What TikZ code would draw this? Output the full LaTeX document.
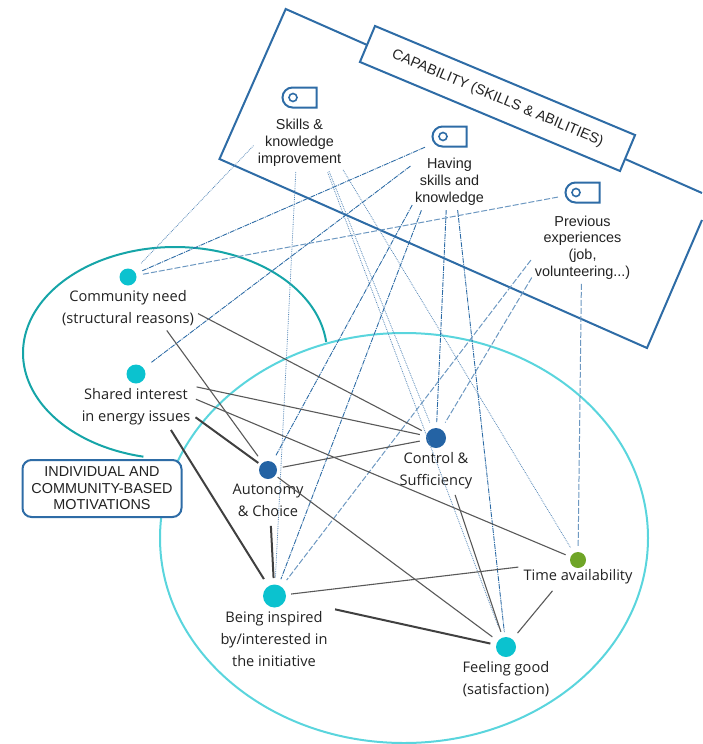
\documentclass[tikz,border=0pt]{standalone}
\usepackage{fontspec}
\usetikzlibrary{shapes.geometric,shapes.misc}
\newfontfamily\arialfont{Liberation Sans}
\newfontfamily\labelfont{Open Sans}
\definecolor{frameblue}{HTML}{2E6CA6}
\definecolor{ringteal}{HTML}{16A5A8}
\definecolor{ringcyan}{HTML}{5AD5DD}
\definecolor{dotcyan}{HTML}{0BC2CF}
\definecolor{dotblue}{HTML}{2463A4}
\definecolor{dotgreen}{HTML}{6FA527}
\definecolor{inktext}{HTML}{222222}
\tikzset{
    dot/.style={circle, inner sep=0pt, minimum size=#1},
    tagbox/.style={rounded rectangle, rounded rectangle right arc=none, draw=frameblue, line width=2pt, minimum width=34pt, minimum height=20pt, inner sep=0pt},
    taghole/.style={circle, draw=frameblue, line width=1.6pt, minimum size=8pt, inner sep=0pt},
    skilltext/.style={font=\arialfont\fontsize{14.4}{16.8}\selectfont, align=center, text=inktext, inner sep=0pt},
    motivetext/.style={font=\labelfont\fontsize{14.6}{21.8}\selectfont, align=center, text=inktext, inner sep=0pt},
    skilllink/.style={draw=frameblue!80, line width=0.8pt, densely dotted},
    havelink/.style={draw=frameblue, line width=0.9pt, dash pattern=on 5pt off 1pt on 1pt off 1pt},
    prevlink/.style={draw=frameblue!70, line width=1pt, dash pattern=on 6pt off 2pt},
    thinlink/.style={draw=black!65, line width=1.1pt},
    thicklink/.style={draw=black!75, line width=2pt}
}
\begin{document}
\begin{tikzpicture}[x=1pt,y=-1pt]
\useasboundingbox (0,0) rectangle (702,744);

% the two rings
\node[ellipse, draw=ringcyan, line width=2pt, minimum width=488pt, minimum height=410pt, inner sep=0pt] (ring) at (404,538) {};
\draw[ringteal, line width=2pt] plot[domain=6:258, samples=90, smooth] ({175+152*cos(\x)},{353-106*sin(\x)});

% capability frame
\draw[frameblue, line width=2pt, line join=miter] (702,193) -- (285.7,9) -- (219.5,159) -- (647,348) -- (702,220);
\node[draw=frameblue, fill=white, line width=2pt, rotate=-22.75, minimum width=282pt, minimum height=39pt, inner sep=0pt, text=inktext, font=\arialfont\fontsize{14.3}{16}\selectfont] (captitle) at (497.5,98.5) {CAPABILITY (SKILLS \& ABILITIES)};
\node[draw=frameblue, fill=white, line width=2pt, rounded corners=9pt, minimum width=159pt, minimum height=57pt, inner sep=0pt, align=center, text=inktext, font=\arialfont\fontsize{14.4}{16.6}\selectfont] (motives) at (102,488.5) {INDIVIDUAL AND\\COMMUNITY-BASED\\MOTIVATIONS};

% capability tags
\node[tagbox] (sk) at (299.5,97.5) {};
\node[tagbox] (hv) at (449.5,136.5) {};
\node[tagbox] (pv) at (582.5,192.5) {};
\node[taghole] (skh) at (293,97.5) {};
\node[taghole] (hvh) at (443,136.5) {};
\node[taghole] (pvh) at (576,192.5) {};
\node[skilltext] (skl) at (299.5,143) {Skills \&\\knowledge\\improvement};
\node[skilltext] (hvl) at (449.5,182) {Having\\skills and\\knowledge};
\node[skilltext] (pvl) at (582.5,247.5) {Previous\\experiences\\(job,\\volunteering...)};

% motivations
\node[dot=17pt, fill=dotcyan] (cn) at (128,277) {};
\node[dot=19pt, fill=dotcyan] (si) at (136,374) {};
\node[dot=18pt, fill=dotblue] (au) at (268,470) {};
\node[dot=20pt, fill=dotblue] (co) at (436,438) {};
\node[dot=16pt, fill=dotgreen] (tm) at (578,560) {};
\node[dot=23pt, fill=dotcyan] (be) at (274.5,596) {};
\node[dot=20pt, fill=dotcyan] (fg) at (506,647) {};
\node[motivetext] (cnl) at (128,308) {Community need\\(structural reasons)};
\node[motivetext] (sil) at (136,406.5) {Shared interest\\in energy issues};
\node[motivetext] (aul) at (268,500.5) {Autonomy\\\& Choice};
\node[motivetext] (col) at (436,471) {Control \&\\Sufficiency};
\node[motivetext] (tml) at (578,577) {Time availability};
\node[motivetext] (bel) at (274,639) {Being inspired\\by/interested in\\the initiative};
\node[motivetext] (fgl) at (506,679) {Feeling good\\(satisfaction)};

\path[skilllink]
    (sk.center) edge[shorten <=66.5pt, shorten >=18pt] (cn.center)
    (sk.center) edge[shorten <=74.6pt, shorten >=18pt] (be.center)
    (sk.center) edge[shorten <=79.4pt, shorten >=16pt] (co.center)
    (sk.center) edge[shorten <=80pt, shorten >=21pt] (fg.center)
    (sk.center) edge[shorten <=84.5pt, shorten >=14.3pt] (tm.center);
\path[havelink]
    (hv.center) edge[shorten <=26.7pt, shorten >=15.6pt] (cn.center)
    (hv.center) edge[shorten <=49pt, shorten >=18.6pt] (si.center)
    (hv.center) edge[shorten <=78pt, shorten >=16pt] (au.center)
    (hv.center) edge[shorten <=79pt, shorten >=18pt] (be.center)
    (hv.center) edge[shorten <=73.6pt, shorten >=16pt] (co.center)
    (hv.center) edge[shorten <=74pt, shorten >=15pt] (fg.center);
\path[prevlink]
    (pv.center) edge[shorten <=25pt, shorten >=14pt] (cn.center)
    (pv.center) edge[shorten <=85pt, shorten >=20pt] (be.center)
    (pv.center) edge[shorten <=99pt, shorten >=18pt] (co.center)
    (pv.center) edge[shorten <=91.5pt, shorten >=14pt] (tm.center);
\path[thinlink]
    (cn.center) edge[shorten <=79pt, shorten >=16pt] (co.center)
    (cn.center) edge[shorten <=66pt, shorten >=17pt] (au.center)
    (si.center) edge[shorten <=62pt, shorten >=16.5pt] (co.center)
    (si.center) edge[shorten <=65pt, shorten >=13.4pt] (tm.center)
    (au.center) edge[shorten <=12pt, shorten >=17pt] (fg.center)
    (au.center) edge[shorten <=15pt, shorten >=16.5pt] (co.center)
    (co.center) edge[shorten <=60pt, shorten >=16pt] (fg.center)
    (be.center) edge[shorten <=16.7pt, shorten >=60pt] (tm.center)
    (tm.center) edge[shorten <=40pt, shorten >=18pt] (fg.center);
\path[thicklink]
    (si.center) edge[shorten <=73.6pt, shorten >=12pt] (au.center)
    (si.center) edge[shorten <=66pt, shorten >=20pt] (be.center)
    (au.center) edge[shorten <=56pt, shorten >=18pt] (be.center)
    (be.center) edge[shorten <=62pt, shorten >=16pt] (fg.center);
\end{tikzpicture}
\end{document}
